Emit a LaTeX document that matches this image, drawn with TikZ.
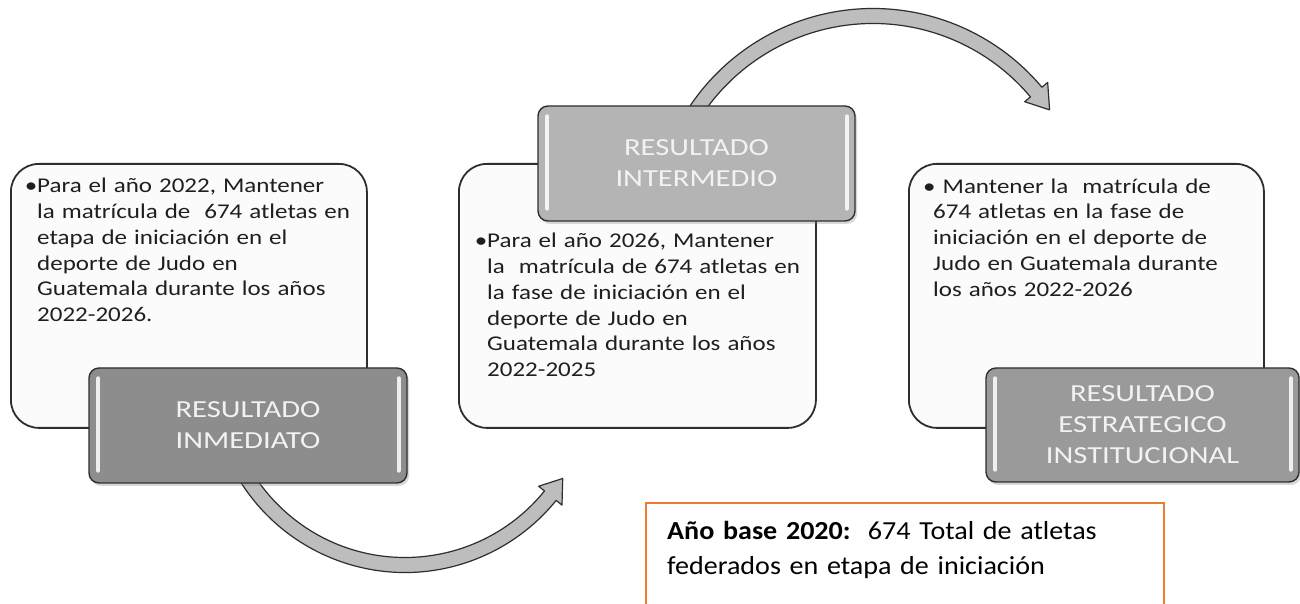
\documentclass[tikz,border=0pt]{standalone}
\usepackage{fontspec}
\setmainfont{Carlito}
\newfontfamily\bodyfont[FakeStretch=1.19]{Carlito}
\newfontfamily\grayfont[FakeStretch=1.25]{Carlito}
\newfontfamily\notefont[FakeStretch=1.08]{Carlito}
\usetikzlibrary{shadows}
\definecolor{boxline}{HTML}{2E2E2E}
\definecolor{boxfill}{HTML}{FBFBFB}
\definecolor{gA}{HTML}{8D8D8D}
\definecolor{gB}{HTML}{B4B4B4}
\definecolor{gC}{HTML}{9A9A9A}
\definecolor{gtext}{HTML}{F2F2F2}
\definecolor{arrowfill}{HTML}{BDBDBD}
\definecolor{orangeline}{HTML}{ED7D31}
\newcommand{\BandArrow}[7]{%
  \pgfmathsetmacro{\BAro}{#2+#6}\pgfmathsetmacro{\BAri}{#2-#6}%
  \pgfmathsetmacro{\BAho}{#2+#7}\pgfmathsetmacro{\BAhi}{#2-#7}%
  \filldraw[bandarrow] ([shift={(#3:\BAro)}]#1) arc[start angle=#3, end angle=#4, radius=\BAro]
    -- ([shift={(#4:\BAho)}]#1) -- ([shift={(#5:#2)}]#1) -- ([shift={(#4:\BAhi)}]#1)
    -- ([shift={(#4:\BAri)}]#1) arc[start angle=#4, end angle=#3, radius=\BAri] -- cycle;}
\tikzset{
  whitebox/.style={draw=boxline, fill=boxfill, line width=1.8pt, rounded corners=28pt,
    anchor=north west, inner sep=0pt, minimum height=264pt},
  graybox/.style={draw=boxline, line width=1.4pt, rounded corners=10pt, inner sep=0pt,
    minimum height=115pt, text=gtext, font=\grayfont\fontsize{24.5}{31}\selectfont, align=center,
    drop shadow={shadow xshift=2pt, shadow yshift=-3pt, opacity=0.3}},
  hl/.style={white, line width=4pt, line cap=round, opacity=0.85},
  bodytext/.style={anchor=base west, inner sep=0pt, text width=345pt, align=left,
    font=\bodyfont\fontsize{21}{25.7}\selectfont, text=black!88},
  bandarrow/.style={fill=arrowfill, draw=boxline, line width=1.2pt, line join=round},
  orangebox/.style={draw=orangeline, line width=2pt, fill=white, anchor=north west,
    minimum width=518pt, minimum height=110pt, inner sep=0pt},
}
\begin{document}
\begin{tikzpicture}[x=1pt,y=1pt]
\useasboundingbox (0,0) rectangle (1300,604);
\fill[white] (0,0) rectangle (1300,604);
% curved arrows
\coordinate (A1c) at (405,226);
\coordinate (A2c) at (873,375);
\BandArrow{A1c}{187}{205}{321}{327.5}{7.5}{15}
\BandArrow{A2c}{213}{150}{40}{34}{7.5}{15}
% white boxes
\node[whitebox, minimum width=356pt] (B1) at (10,441) {};
\node[whitebox, minimum width=357pt] (B2) at (458,441) {};
\node[whitebox, minimum width=355pt] (B3) at (908,441) {};
% texts
\node[bodytext] (T1) at (37,411) {\llap{•}Para el año 2022, Mantener\\la matrícula de~ 674 atletas en\\etapa de iniciación en el\\deporte de Judo en\\Guatemala durante los años\\2022-2026.};
\node[bodytext] (T2) at (487,356) {\llap{•}Para el año 2026, Mantener\\la~ matrícula de 674 atletas en\\la fase de iniciación en el\\deporte de Judo en\\Guatemala durante los años\\2022-2025};
\node[bodytext] (T3) at (933,410.7) {\hspace*{-10pt}•\hspace*{7pt}Mantener la~ matrícula de\\674 atletas en la fase de\\iniciación en el deporte de\\Judo en Guatemala durante\\los años 2022-2026};
% gray boxes
\node[graybox, fill=gA, minimum width=318pt] (G1) at (248,178.5) {RESULTADO\\INMEDIATO};
\node[graybox, fill=gB, minimum width=317pt] (G2) at (696.5,440.5) {RESULTADO\\INTERMEDIO};
\node[graybox, fill=gC, minimum width=313pt, minimum height=114pt] (G3) at (1142.5,179) {RESULTADO\\ESTRATEGICO\\INSTITUCIONAL};
\foreach \g in {G1,G2,G3}{
  \draw[hl] ([xshift=10pt,yshift=13pt]\g.south west) -- ([xshift=10pt,yshift=-11pt]\g.north west);
  \draw[hl] ([xshift=-9pt,yshift=13pt]\g.south east) -- ([xshift=-9pt,yshift=-11pt]\g.north east);
}
% base year box
\node[orangebox] (OB) at (645,102) {};
\node[anchor=base west, inner sep=0pt, text width=495pt, align=left,
  font=\notefont\fontsize{26}{35}\selectfont] (OT) at (667,64) {\textbf{Año base 2020:}\ \ 674 Total de atletas\\federados en etapa de iniciación};
\end{tikzpicture}
\end{document}
